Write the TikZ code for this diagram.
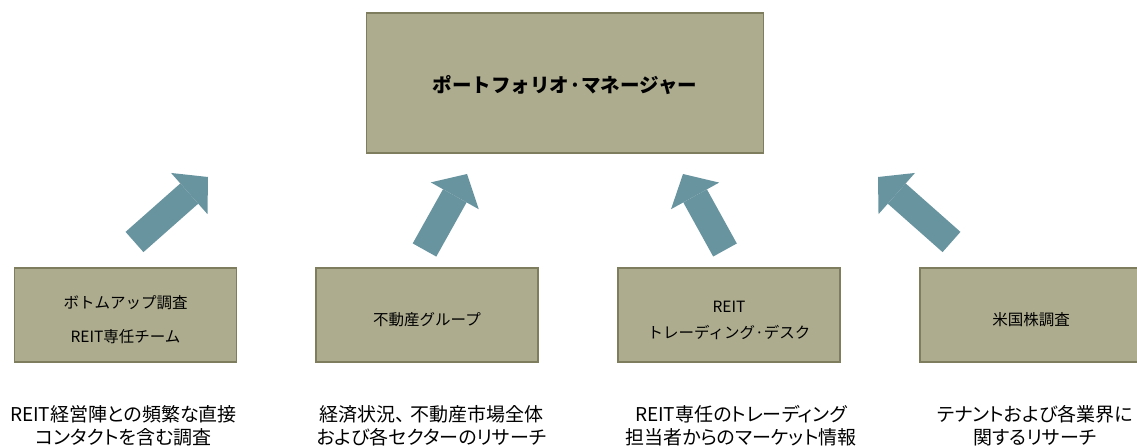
\documentclass[tikz,border=0pt]{standalone}
\usepackage{xcolor}
\definecolor{boxfill}{HTML}{ADAC8F}
\definecolor{boxline}{HTML}{7E7E5E}
\definecolor{flowc}{HTML}{6894A0}
\usepackage{fontspec}
\setmainfont{Noto Sans CJK JP}
\newfontfamily\notefont{Noto Sans CJK JP}[RawFeature=+palt]
\usepackage{tikz}
\usetikzlibrary{positioning,arrows.meta}

\begin{document}
\begin{tikzpicture}[x=1pt,y=-1pt,
  unit/.style={draw=boxline, fill=boxfill, line width=1.6pt, minimum width=222pt,
    minimum height=94pt},
  unittext/.style={align=center, font=\fontsize{15.5}{26}\selectfont},
  note/.style={align=center, font=\notefont\fontsize{19}{23}\selectfont},
  flow/.style={draw=flowc, line width=27pt,
    -{Triangle[length=25pt,width=55pt,line width=0pt]}}]
  \useasboundingbox (0,0) rectangle (1137,446);
  % manager on top
  \node[unit, minimum width=397pt, minimum height=140pt] (pm) at (565,83) {};
  \node[font=\fontsize{19.5}{24}\selectfont\bfseries] (pm-t)
       at ([yshift=-2pt]pm.center) {ポートフォリオ·マネージャー};
  % four research teams
  \node[unit] (bu) at (125.5,315) {};
  \node[unit] (re) at (427,315) {};
  \node[unit] (td) at (729,315) {};
  \node[unit] (us) at (1031,315) {};
  \node[unittext] (bu-t) at ([yshift=-5pt]bu.center) {ボトムアップ調査\\[8pt]REIT専任チーム};
  \node[unittext] (re-t) at ([yshift=-5pt]re.center) {不動産グループ};
  \node[unittext] (td-t) at ([yshift=-5pt]td.center) {REIT\\トレーディング·デスク};
  \node[unittext] (us-t) at ([yshift=-5pt]us.center) {米国株調査};
  % what each one supplies
  \node[note] (bun) at (123.5,426) {REIT経営陣との頻繁な直接\\コンタクトを含む調査};
  \node[note] (ren) at (431.5,426) {経済状況、\hspace{6pt}不動産市場全体\\および各セクターのリサーチ};
  \node[note] (tdn) at (741,426) {REIT専任のトレーディング\\担当者からのマーケット情報};
  \node[note] (usn) at (1035,426) {テナントおよび各業界に\\関するリサーチ};
  % block arrows up to the manager
  \coordinate (bus) at (134.5,242); \coordinate (bue) at (208,177);
  \coordinate (res) at (424.5,250); \coordinate (ree) at (467,174);
  \coordinate (tds) at (725,250);   \coordinate (tde) at (683,174);
  \coordinate (uss) at (951.5,242); \coordinate (use) at (878,177);
  \draw[flow] (bus) -- (bue);
  \draw[flow] (res) -- (ree);
  \draw[flow] (tds) -- (tde);
  \draw[flow] (uss) -- (use);
\end{tikzpicture}
\end{document}
